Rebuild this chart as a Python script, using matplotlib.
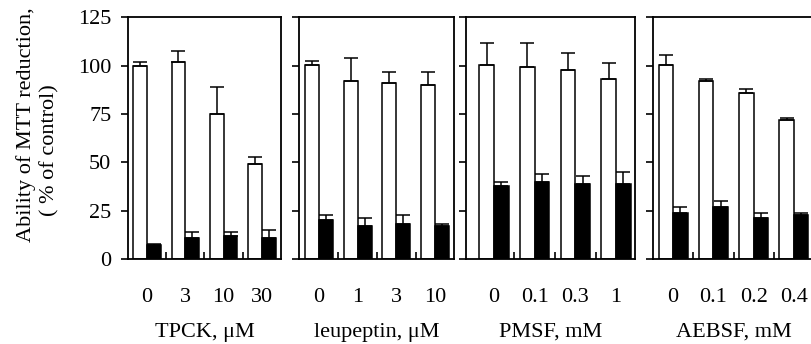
import matplotlib
matplotlib.use("Agg")
import matplotlib.pyplot as plt
import numpy as np

plt.rcParams['font.family'] = ['Liberation Serif', 'DejaVu Serif']

# data (percent of control)
tpck_labels = ["0", "3", "10", "30"]
tpck_white = [100, 102, 75, 49]
tpck_white_err = [2, 5.5, 14, 4]
tpck_black = [7, 11, 12, 11]
tpck_black_err = [1, 3, 2, 4]

leup_labels = ["0", "1", "3", "10"]
leup_white = [100.5, 92, 91, 90]
leup_white_err = [2, 12, 6, 7]
leup_black = [20, 17, 18, 17]
leup_black_err = [3, 4, 5, 1]

pmsf_labels = ["0", "0.1", "0.3", "1"]
pmsf_white = [100.5, 99.5, 98, 93]
pmsf_white_err = [11, 12, 8.5, 8.5]
pmsf_black = [38, 40, 39, 39]
pmsf_black_err = [2, 4, 4, 6]

aebsf_labels = ["0", "0.1", "0.2", "0.4"]
aebsf_white = [100.5, 92, 86, 72]
aebsf_white_err = [5, 1, 2, 1]
aebsf_black = [24, 27, 21, 23]
aebsf_black_err = [3, 3, 3, 1]

panels = [
    ("TPCK, μM", tpck_labels, tpck_white, tpck_white_err, tpck_black, tpck_black_err),
    ("leupeptin, μM", leup_labels, leup_white, leup_white_err, leup_black, leup_black_err),
    ("PMSF, mM", pmsf_labels, pmsf_white, pmsf_white_err, pmsf_black, pmsf_black_err),
    ("AEBSF, mM", aebsf_labels, aebsf_white, aebsf_white_err, aebsf_black, aebsf_black_err),
]

W, H = 812, 344
fig = plt.figure(figsize=(W / 100, H / 100), dpi=100)

# pixel extents of each panel: left, right, xlim
boxes = [(128, 281, (-0.5, 3.5)),
         (299, 454, (-0.52, 3.49)),
         (466, 635, (-0.69, 3.47)),
         (653, 814, (-0.5, 3.5))]
y_bot, y_top = 259, 17.4
bw = 0.36
fs = 16

for i, (xlabel, labels, wv, we, bv, be) in enumerate(panels):
    l, r, xl = boxes[i]
    ax = fig.add_axes([l / W, (H - y_bot) / H, (r - l) / W, (y_bot - y_top) / H])
    x = np.arange(len(labels))
    ax.bar(x - bw / 2, wv, bw, color="white", edgecolor="black", linewidth=1.1, zorder=2)
    ax.bar(x + bw / 2, bv, bw, color="black", edgecolor="black", linewidth=1.1, zorder=2)
    ax.errorbar(x - bw / 2, wv, yerr=[np.zeros(len(wv)), we], fmt="none",
                ecolor="black", elinewidth=1.1, capsize=5, capthick=1.1, zorder=3)
    ax.errorbar(x + bw / 2, bv, yerr=[np.zeros(len(bv)), be], fmt="none",
                ecolor="black", elinewidth=1.1, capsize=5, capthick=1.1, zorder=3)
    ax.set_xlim(*xl)
    ax.set_ylim(0, 125)
    ax.set_yticks([0, 25, 50, 75, 100, 125])
    ax.tick_params(axis="y", direction="out", length=5, width=1.2, labelsize=fs, pad=7)
    if i > 0:
        ax.tick_params(axis="y", labelleft=False)
    ax.set_xticks(x)
    ax.set_xticklabels(labels)
    ax.tick_params(axis="x", length=0, labelsize=fs, pad=21)
    ax.set_xticks([0.5, 1.5, 2.5], minor=True)
    ax.tick_params(axis="x", which="minor", direction="in", length=5, width=1.2)
    for s in ax.spines.values():
        s.set_linewidth(1.3)
    ax.set_xlabel(xlabel, fontsize=fs, va="center")
    ax.xaxis.set_label_coords(0.5, -(332 - y_bot) / (y_bot - y_top))

# y label as two separately placed lines, like the original
fig.text(26 / W, 1 - 125 / H, "Ability of MTT reduction,", rotation=90,
         ha="center", va="center", fontsize=fs)
fig.text(50 / W, 1 - 150 / H, "( % of control)", rotation=90,
         ha="center", va="center", fontsize=fs)

fig.savefig("out.png", dpi=100)
